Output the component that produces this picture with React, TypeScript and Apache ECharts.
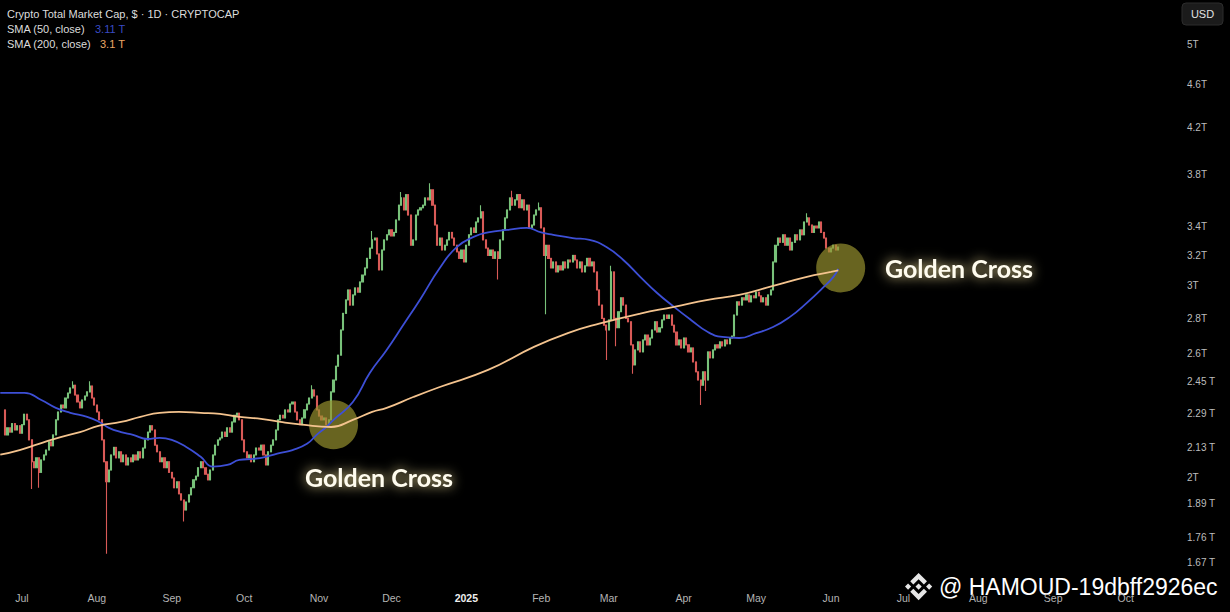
import React, { useEffect, useRef } from 'react';
import * as echarts from 'echarts';

// ---------- DATA ----------
const firstCandleDate = '2024-06-24';
const firstOpen = 2.306;
// daily closes (trillion USD), from 2024-06-24
const closes = [
  2.187, 2.22, 2.20, 2.24, 2.21, 2.23, 2.195, 2.235, 2.285, 2.258,
  2.164, 2.066, 2.04, 2.083, 2.02, 2.074, 2.096, 2.118, 2.155, 2.137,
  2.187, 2.258, 2.296, 2.33, 2.316, 2.365, 2.39, 2.416, 2.43, 2.38,
  2.345, 2.316, 2.355, 2.375, 2.396, 2.426, 2.365, 2.33, 2.296, 2.258,
  2.164, 2.066, 1.98, 2.03, 2.096, 2.13, 2.083, 2.11, 2.066, 2.096,
  2.052, 2.083, 2.066, 2.096, 2.074, 2.11, 2.083, 2.127, 2.164, 2.20,
  2.23, 2.21, 2.14, 2.11, 2.066, 2.083, 2.04, 2.066, 2.02, 1.996,
  1.955, 1.98, 1.93, 1.905, 1.865, 1.897, 1.926, 1.955, 1.988, 2.004,
  2.04, 2.066, 2.04, 2.012, 1.988, 2.03, 2.096, 2.14, 2.164, 2.173,
  2.20, 2.18, 2.22, 2.20, 2.248, 2.28, 2.29, 2.258, 2.164, 2.11,
  2.083, 2.096, 2.066, 2.096, 2.127, 2.118, 2.14, 2.096, 2.052, 2.11,
  2.14, 2.164, 2.21, 2.258, 2.28, 2.267, 2.306, 2.296, 2.335, 2.345,
  2.296, 2.258, 2.235, 2.267, 2.306, 2.335, 2.365, 2.406, 2.375, 2.306,
  2.276, 2.258, 2.267, 2.235, 2.258, 2.396, 2.457, 2.53, 2.59, 2.732,
  2.83, 2.912, 2.974, 2.88, 2.943, 2.987, 2.96, 3.025, 3.07, 3.116,
  3.18, 3.25, 3.307, 3.32, 3.21, 3.103, 3.237, 3.307, 3.343, 3.378,
  3.335, 3.36, 3.45, 3.56, 3.615, 3.524, 3.64, 3.486, 3.27, 3.307,
  3.486, 3.524, 3.54, 3.56, 3.615, 3.60, 3.677, 3.56, 3.413, 3.27,
  3.32, 3.237, 3.27, 3.307, 3.36, 3.32, 3.27, 3.224, 3.18, 3.237,
  3.156, 3.27, 3.343, 3.392, 3.36, 3.435, 3.465, 3.51, 3.307, 3.25,
  3.20, 3.237, 3.18, 3.224, 3.18, 3.307, 3.378, 3.465, 3.524, 3.615,
  3.56, 3.60, 3.64, 3.54, 3.60, 3.524, 3.56, 3.392, 3.413, 3.486,
  3.524, 3.54, 3.392, 3.20, 3.27, 3.18, 3.116, 3.156, 3.09, 3.13,
  3.103, 3.156, 3.116, 3.169, 3.156, 3.20, 3.169, 3.116, 3.156, 3.09,
  3.13, 3.18, 3.13, 3.156, 3.09, 2.974, 2.88, 2.80, 2.76, 2.732,
  2.791, 3.09, 2.80, 2.745, 2.84, 2.925, 2.88, 2.80, 2.78, 2.647,
  2.537, 2.619, 2.664, 2.608, 2.675, 2.703, 2.647, 2.686, 2.732, 2.78,
  2.72, 2.745, 2.791, 2.82, 2.80, 2.82, 2.76, 2.72, 2.647, 2.675,
  2.63, 2.686, 2.647, 2.608, 2.63, 2.553, 2.50, 2.457, 2.43, 2.50,
  2.457, 2.608, 2.575, 2.619, 2.647, 2.63, 2.664, 2.641, 2.675, 2.653,
  2.686, 2.697, 2.82, 2.90, 2.88, 2.925, 2.912, 2.943, 2.90, 2.937,
  2.925, 2.96, 2.937, 2.90, 2.925, 2.88, 2.943, 2.974, 3.156, 3.27,
  3.32, 3.29, 3.343, 3.27, 3.32, 3.237, 3.29, 3.343, 3.307, 3.378,
  3.343, 3.435, 3.465, 3.413, 3.36, 3.405, 3.392, 3.435, 3.36, 3.32,
  3.25, 3.224, 3.25, 3.27, 3.237, 3.257,
];

// notable wicks beyond the candle bodies
const wickLows: [string, number][] = [
  ['2024-07-05', 1.95], ['2024-07-08', 1.955], ['2024-08-05', 1.70], ['2024-09-06', 1.82],
  ['2025-01-14', 3.04], ['2025-02-03', 2.825], ['2025-02-28', 2.564], ['2025-03-04', 2.64],
  ['2025-03-11', 2.49], ['2025-04-08', 2.33], ['2025-04-10', 2.40],
];
const wickHighs: [string, number][] = [
  ['2024-07-22', 2.45], ['2024-07-29', 2.45], ['2024-10-29', 2.43], ['2024-11-23', 3.37],
  ['2024-12-05', 3.66], ['2024-12-17', 3.73], ['2025-01-07', 3.56], ['2025-01-20', 3.67],
  ['2025-01-31', 3.58], ['2025-03-02', 3.13], ['2025-05-22', 3.50],
];

const sma50: [string, number][] = [
  ['2024-06-22', 2.391], ['2024-07-02', 2.391], ['2024-07-09', 2.355], ['2024-07-15', 2.316],
  ['2024-07-21', 2.292], ['2024-07-28', 2.272], ['2024-08-02', 2.248], ['2024-08-06', 2.22],
  ['2024-08-11', 2.20], ['2024-08-16', 2.187], ['2024-08-22', 2.168], ['2024-08-27', 2.173],
  ['2024-09-01', 2.164], ['2024-09-07', 2.132], ['2024-09-13', 2.088], ['2024-09-18', 2.045],
  ['2024-09-24', 2.052], ['2024-09-29', 2.074], ['2024-10-05', 2.079], ['2024-10-10', 2.088],
  ['2024-10-16', 2.105], ['2024-10-21', 2.118], ['2024-10-27', 2.146], ['2024-10-31', 2.187],
  ['2024-11-04', 2.224], ['2024-11-07', 2.258], ['2024-11-15', 2.345], ['2024-11-22', 2.494],
  ['2024-11-29', 2.619], ['2024-12-06', 2.764], ['2024-12-13', 2.918], ['2024-12-21', 3.116],
  ['2024-12-28', 3.257], ['2025-01-04', 3.328], ['2025-01-10', 3.36], ['2025-01-18', 3.378],
  ['2025-01-26', 3.392], ['2025-02-01', 3.36], ['2025-02-06', 3.343], ['2025-02-14', 3.32],
  ['2025-02-21', 3.307], ['2025-02-28', 3.257], ['2025-03-07', 3.169], ['2025-03-14', 3.058],
  ['2025-03-21', 2.955], ['2025-03-28', 2.869], ['2025-04-04', 2.791], ['2025-04-11', 2.72],
  ['2025-04-17', 2.692], ['2025-04-24', 2.686], ['2025-05-01', 2.714], ['2025-05-08', 2.749],
  ['2025-05-15', 2.809], ['2025-05-22', 2.894], ['2025-05-29', 2.993], ['2025-06-02', 3.058],
  ['2025-06-04', 3.11],
];

const sma200: [string, number][] = [
  ['2024-06-22', 2.097], ['2024-06-30', 2.118], ['2024-07-08', 2.146], ['2024-07-17', 2.177],
  ['2024-07-25', 2.20], ['2024-08-02', 2.23], ['2024-08-11', 2.248], ['2024-08-19', 2.272],
  ['2024-08-27', 2.292], ['2024-09-04', 2.296], ['2024-09-13', 2.292], ['2024-09-21', 2.287],
  ['2024-09-29', 2.272], ['2024-10-08', 2.263], ['2024-10-16', 2.248], ['2024-10-25', 2.235],
  ['2024-11-06', 2.224], ['2024-11-15', 2.258], ['2024-11-23', 2.296], ['2024-11-29', 2.316],
  ['2024-12-10', 2.37], ['2024-12-21', 2.421], ['2025-01-10', 2.51], ['2025-01-29', 2.636],
  ['2025-02-12', 2.714], ['2025-02-25', 2.769], ['2025-03-14', 2.829], ['2025-03-28', 2.869],
  ['2025-04-11', 2.912], ['2025-04-24', 2.943], ['2025-05-08', 3.0], ['2025-05-22', 3.058],
  ['2025-06-01', 3.09], ['2025-06-04', 3.10],
];

const goldenCrosses: [string, number][] = [['2024-11-07', 2.235], ['2025-06-05', 3.116]];

const monthTicks = [
  '2024-07-01', '2024-08-01', '2024-09-01', '2024-10-01', '2024-11-01', '2024-12-01',
  '2025-01-01', '2025-02-01', '2025-03-01', '2025-04-01', '2025-05-01', '2025-06-01',
  '2025-07-01', '2025-08-01', '2025-09-01', '2025-10-01',
];
const monthNames = ['Jan', 'Feb', 'Mar', 'Apr', 'May', 'Jun', 'Jul', 'Aug', 'Sep', 'Oct', 'Nov', 'Dec'];
const yTicks = [5, 4.6, 4.2, 3.8, 3.4, 3.2, 3, 2.8, 2.6, 2.45, 2.29, 2.13, 2, 1.89, 1.76, 1.67];

const legendTitle = 'Crypto Total Market Cap, $ · 1D · CRYPTOCAP';
const sma50Label = 'SMA (50, close)';
const sma200Label = 'SMA (200, close)';
const sma50Last = '3.11 T';
const sma200Last = '3.1 T';
const annotationText = 'Golden Cross';
const watermark = '@ HAMOUD-19dbff2926ec';

// ---------- helpers ----------
const DAY = 86400000;
function ts(s: string): number {
  const [y, m, d] = s.split('-').map(Number);
  return new Date(y, m - 1, d).getTime();
}

const BINANCE_PATH =
  'M38.73,53.2 L63.3,28.63 L87.89,53.22 L102.19,38.92 L63.3,0 L24.42,38.9 Z ' +
  'M0,63.31 L14.3,49.01 L28.6,63.31 L14.3,77.61 Z ' +
  'M38.73,73.41 L63.3,97.98 L87.89,73.39 L102.19,87.69 L63.3,126.61 L24.42,87.71 Z ' +
  'M98.01,63.31 L112.31,49.01 L126.61,63.31 L112.31,77.61 Z ' +
  'M77.81,63.3 L63.3,48.78 L48.79,63.28 L63.3,77.79 Z';
echarts.graphic.registerShape('binanceLogo', echarts.graphic.extendPath(BINANCE_PATH, {}));

function buildCandles() {
  const [sy, sm, sd] = firstCandleDate.split('-').map(Number);
  const lowMap = new Map(wickLows.map(([d, v]) => [ts(d), v]));
  const highMap = new Map(wickHighs.map(([d, v]) => [ts(d), v]));
  let prev = firstOpen;
  return closes.map((c, i) => {
    const t = new Date(sy, sm - 1, sd + i).getTime();
    const o = prev;
    prev = c;
    const hi = Math.max(o, c, highMap.get(t) ?? 0);
    const lo = Math.min(o, c, lowMap.get(t) ?? Infinity);
    return [t, o, c, lo, hi];
  });
}

const UP = '#78c27a';
const DOWN = '#d95a57';
const FONT = '"Liberation Sans", Arial, sans-serif';

export default function App() {
  const ref = useRef<HTMLDivElement>(null);
  useEffect(() => {
    if (!ref.current) return;
    const chart = echarts.init(ref.current, null, { renderer: 'svg' });
    const jul1 = ts('2024-07-01');
    const glow = {
      fill: '#fffcee',
      font: `bold 25px Lato, "Open Sans", sans-serif`,
      align: 'center',
      verticalAlign: 'middle',
      textShadowColor: 'rgba(255,236,160,0.95)',
      textShadowBlur: 12,
    };
    const option: any = {
      animation: false,
      backgroundColor: '#000000',
      grid: { left: 0, top: 0, width: 1172, height: 582 },
      tooltip: { show: false },
      xAxis: {
        type: 'value',
        min: jul1 - 9.11 * DAY,
        max: jul1 + 476.2 * DAY,
        axisLine: { show: false },
        axisTick: { show: false },
        splitLine: { show: false },
        axisLabel: {
          customValues: monthTicks.map(ts),
          color: '#b4b4b4',
          fontSize: 10.5,
          fontFamily: FONT,
          margin: 10,
          formatter: (val: number) => {
            const dt = new Date(val);
            return dt.getMonth() === 0 ? `{yr|${dt.getFullYear()}}` : monthNames[dt.getMonth()];
          },
          rich: { yr: { fontWeight: 'bold', color: '#eeeeee', fontSize: 10.5, fontFamily: FONT } },
        },
      },
      yAxis: {
        type: 'log',
        logBase: 10,
        min: 1.601,
        max: 5.5,
        position: 'right',
        axisLine: { show: false },
        axisTick: { show: false },
        splitLine: { show: false },
        axisLabel: {
          customValues: yTicks,
          color: '#bdbdbd',
          fontSize: 10,
          fontFamily: FONT,
          align: 'left',
          margin: 15,
          formatter: (val: number) => {
            const s = String(Math.round(val * 100) / 100);
            return s.length > 3 ? `${s} T` : `${s}T`;
          },
        },
      },
      series: [
        {
          type: 'candlestick',
          data: buildCandles(),
          encode: { x: 0, y: [1, 2, 3, 4] },
          barWidth: 1.6,
          z: 2,
          itemStyle: { color: UP, color0: DOWN, borderColor: UP, borderColor0: DOWN, borderWidth: 1.1 },
        },
        {
          type: 'scatter',
          data: goldenCrosses.map(([d, v]) => [ts(d), v]),
          symbolSize: 49,
          silent: true,
          z: 3,
          itemStyle: { color: 'rgba(152,145,46,0.86)' },
        },
        {
          type: 'line',
          data: sma50.map(([d, v]) => [ts(d), v]),
          smooth: true,
          showSymbol: false,
          silent: true,
          z: 4,
          lineStyle: { color: '#3d4fd6', width: 1.8 },
        },
        {
          type: 'line',
          data: sma200.map(([d, v]) => [ts(d), v]),
          smooth: true,
          showSymbol: false,
          silent: true,
          z: 5,
          lineStyle: { color: '#f4c38e', width: 1.8 },
        },
      ],
      graphic: [
        { type: 'text', x: 7, y: 14, style: { text: legendTitle, fill: '#dcdcdc', font: `11px ${FONT}`, verticalAlign: 'middle' } },
        { type: 'text', x: 7, y: 29, style: { text: sma50Label, fill: '#dcdcdc', font: `11px ${FONT}`, verticalAlign: 'middle' } },
        { type: 'text', x: 95, y: 29, style: { text: sma50Last, fill: '#3a4bc4', font: `11px ${FONT}`, verticalAlign: 'middle' } },
        { type: 'text', x: 7, y: 44, style: { text: sma200Label, fill: '#dcdcdc', font: `11px ${FONT}`, verticalAlign: 'middle' } },
        { type: 'text', x: 100, y: 44, style: { text: sma200Last, fill: '#eda866', font: `11px ${FONT}`, verticalAlign: 'middle' } },
        { type: 'rect', shape: { x: 1182, y: 3, width: 41, height: 22, r: 4 }, style: { fill: '#1b1b1b', stroke: '#2c2c2c', lineWidth: 1 } },
        { type: 'text', x: 1202.5, y: 14, style: { text: 'USD', fill: '#e2e2e2', font: `11px ${FONT}`, align: 'center', verticalAlign: 'middle' } },
        { type: 'text', x: 379, y: 477, style: { ...glow, text: annotationText } },
        { type: 'text', x: 959, y: 268, style: { ...glow, text: annotationText } },
        { type: 'binanceLogo', x: 905, y: 573, scaleX: 0.215, scaleY: 0.215, style: { fill: '#e6e6e6' } },
        { type: 'text', x: 939, y: 587, style: { text: watermark, fill: '#ffffff', font: `23px ${FONT}`, verticalAlign: 'middle' } },
      ],
    };
    chart.setOption(option);
    return () => chart.dispose();
  }, []);
  return (
    <div style={{ position: 'fixed', left: 0, top: 0, width: 1230, height: 612, background: '#000', margin: 0 }}>
      <div ref={ref} style={{ width: 1230, height: 612 }} />
    </div>
  );
}
